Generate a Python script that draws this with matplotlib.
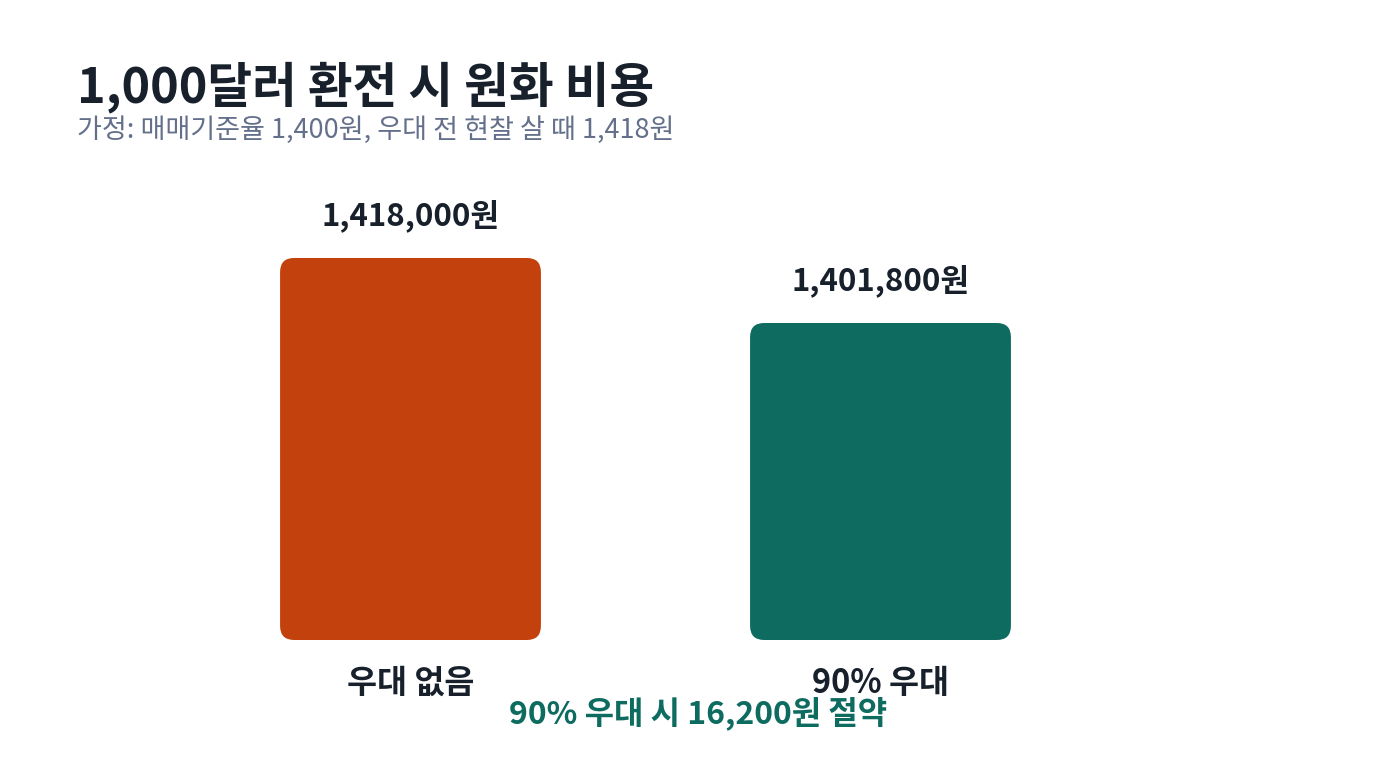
import matplotlib
matplotlib.use('Agg')
import matplotlib.pyplot as plt
from matplotlib.patches import FancyBboxPatch

categories = ['우대 없음', '90% 우대']
values = [1418000, 1401800]
value_labels = ['1,418,000원', '1,401,800원']
colors = ['#c2410c', '#0d6b5f']
title = '1,000달러 환전 시 원화 비용'
subtitle = '가정: 매매기준율 1,400원, 우대 전 현찰 살 때 1,418원'
note = '90% 우대 시 16,200원 절약'

FAM = ['Noto Sans CJK KR', 'DejaVu Sans']
plt.rcParams['font.family'] = FAM

W, H = 1400, 760
fig = plt.figure(figsize=(14, 7.6), dpi=100)
fig.patch.set_facecolor('white')

ax_bottom, ax_top = 640, 180
ax = fig.add_axes([175.5 / W, (H - ax_bottom) / H, 940 / W, (ax_bottom - ax_top) / H])
ymin = 1322800
ymax = ymin + (ax_bottom - ax_top) * 249.2
ax.set_xlim(-0.5, 1.5)
ax.set_ylim(ymin, ymax)
ax.axis('off')

x = list(range(len(categories)))
bars = ax.bar(x, [v - ymin for v in values], bottom=ymin, width=0.555, color=colors)
aspect = ((ymax - ymin) / (ax_bottom - ax_top)) / (2 / 940)
for b, c in zip(bars, colors):
    b.set_visible(False)
    p = FancyBboxPatch((b.get_x(), b.get_y()), b.get_width(), b.get_height(),
                       boxstyle='round,pad=0,rounding_size=0.03',
                       mutation_aspect=aspect, fc=c, ec='none')
    ax.add_patch(p)

for i, (v, lab) in enumerate(zip(values, value_labels)):
    ax.annotate(lab, (i, v), xytext=(0, 42), textcoords='offset pixels',
                ha='center', va='center', fontsize=22.5, fontweight='bold',
                color='#17202b', annotation_clip=False)
for i, cat in enumerate(categories):
    ax.annotate(cat, (i, ymin), xytext=(0, -43), textcoords='offset pixels',
                ha='center', va='center', fontsize=23.5, fontweight='bold',
                color='#17202b', annotation_clip=False)

fig.text(77 / W, 1 - 102 / H, title, ha='left', va='baseline', fontsize=35,
         fontweight='bold', color='#17202b')
fig.text(77 / W, 1 - 130 / H, subtitle, ha='left', va='center', fontsize=19.5,
         color='#64708b')
fig.text(698 / W, 1 - 713 / H, note, ha='center', va='center', fontsize=23,
         fontweight='bold', color='#0d6b5f')

fig.savefig('out.png', dpi=100, facecolor='white')
